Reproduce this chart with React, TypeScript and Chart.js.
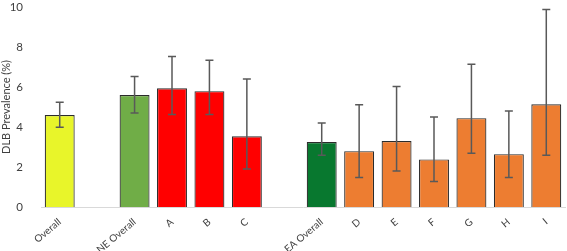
import React, { useEffect, useRef } from "react";
import { Chart, registerables } from "chart.js";

Chart.register(...registerables);

const categories = ["Overall", "", "NE Overall", "A", "B", "C", "", "EA Overall", "D", "E", "F", "G", "H", "I"];
const prevalence = [4.6, null, 5.6, 5.93, 5.79, 3.53, null, 3.25, 2.79, 3.3, 2.38, 4.44, 2.64, 5.13];
const ciLow = [3.98, null, 4.7, 4.62, 4.62, 1.9, null, 2.59, 1.48, 1.8, 1.27, 2.69, 1.48, 2.59];
const ciHigh = [5.24, null, 6.52, 7.52, 7.33, 6.4, null, 4.2, 5.11, 6.02, 4.5, 7.13, 4.8, 9.87];
const barColors = [
  "#e8f52a", "#ffffff", "#70ad47", "#ff0000", "#ff0000", "#ff0000", "#ffffff",
  "#08782f", "#ed7d31", "#ed7d31", "#ed7d31", "#ed7d31", "#ed7d31", "#ed7d31",
];
const yTicks = [0, 2, 4, 6, 8, 10];

const errorBarPlugin = {
  id: "errorBars",
  afterDatasetsDraw(chart: any) {
    const meta = chart.getDatasetMeta(0);
    const yScale = chart.scales.y;
    const ctx = chart.ctx;
    ctx.save();
    ctx.strokeStyle = "#595959";
    ctx.lineWidth = 1.5;
    meta.data.forEach((bar: any, i: number) => {
      if (ciLow[i] == null || ciHigh[i] == null) return;
      const x = bar.x;
      const yl = yScale.getPixelForValue(ciLow[i]);
      const yh = yScale.getPixelForValue(ciHigh[i]);
      const cap = 4;
      ctx.beginPath();
      ctx.moveTo(x, yl);
      ctx.lineTo(x, yh);
      ctx.moveTo(x - cap, yl);
      ctx.lineTo(x + cap, yl);
      ctx.moveTo(x - cap, yh);
      ctx.lineTo(x + cap, yh);
      ctx.stroke();
    });
    ctx.restore();
  },
};

export default function App() {
  const ref = useRef<HTMLCanvasElement>(null);
  useEffect(() => {
    const chart = new Chart(ref.current!, {
      type: "bar",
      data: {
        labels: categories,
        datasets: [
          {
            data: prevalence as any,
            backgroundColor: barColors,
            borderColor: "#2b2b2b",
            borderWidth: 1.2,
            barPercentage: 0.8,
            categoryPercentage: 1,
          },
        ],
      },
      options: {
        animation: false,
        responsive: false,
        layout: { padding: { top: 0, right: 2, bottom: 0, left: 0 } },
        plugins: { legend: { display: false }, tooltip: { enabled: false } },
        scales: {
          x: {
            grid: { display: false },
            border: { color: "#d9d9d9", width: 1 },
            afterFit: (s: any) => {
              s.height = 44;
            },
            ticks: {
              color: "#404040",
              font: { family: "Lato", size: 10 },
              maxRotation: 40,
              minRotation: 40,
              autoSkip: false,
              padding: 1,
            },
          },
          y: {
            min: 0,
            max: 10,
            afterBuildTicks: (s: any) => {
              s.ticks = yTicks.map((v) => ({ value: v }));
            },
            afterFit: (s: any) => {
              s.width = 41;
            },
            grid: { display: false },
            border: { display: false },
            ticks: {
              color: "#404040",
              font: { family: "Lato", size: 11.5 },
              padding: 10,
            },
            title: {
              display: true,
              text: "DLB Prevalence (%)",
              color: "#404040",
              font: { family: "Lato", size: 11 },
              padding: 0,
            },
          },
        },
      },
      plugins: [errorBarPlugin],
    });
    return () => chart.destroy();
  }, []);
  return (
    <div style={{ position: "fixed", left: 0, top: 0, width: 567, height: 251, background: "#fff", overflow: "hidden" }}>
      <canvas ref={ref} width={567} height={261} style={{ position: "absolute", left: 0, top: -10 }} />
    </div>
  );
}
